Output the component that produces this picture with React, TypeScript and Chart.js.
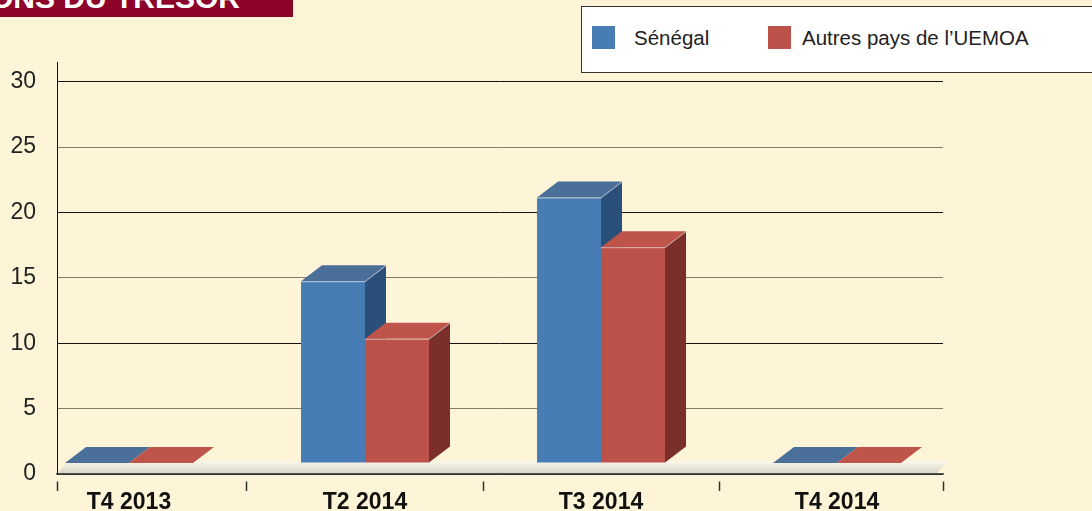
import React, { useEffect, useRef } from "react";
import { Chart, registerables } from "chart.js";

Chart.register(...registerables);

// ---- data ----
const categories = ["T4 2013", "T2 2014", "T3 2014", "T4 2014"];
const seriesNames = ["Sénégal", "Autres pays de l\u2019UEMOA"];
const senegalValues = [0, 13.9, 20.3, 0];
const autresValues = [0, 9.5, 16.5, 0];
const yTickValues = [0, 5, 10, 15, 20, 25, 30];
const titleText = "ONS DU TRESOR";

// ---- styles ----
const frontColors = ["#487cb4", "#bc5249"];
const topColors = ["#4a6f98", "#bf544b"];
const sideColors = ["#2a5079", "#7a2f2a"];
const FONT = "'Liberation Sans', Arial, Helvetica, sans-serif";
const DX = 21;
const DY = 16;
const LIFT = 11;

const bars3d = {
  id: "bars3d",
  beforeDatasetsDraw(chart: any) {
    const { ctx, chartArea, scales } = chart;
    const y0 = scales.y.getPixelForValue(0) - 1;
    ctx.save();
    const g = ctx.createLinearGradient(0, y0 - 12, 0, y0);
    g.addColorStop(0, "rgba(251,248,236,1)");
    g.addColorStop(1, "rgba(216,212,198,1)");
    ctx.fillStyle = g;
    ctx.beginPath();
    ctx.moveTo(chartArea.left + 1, y0);
    ctx.lineTo(chartArea.left + 11, y0 - 12);
    ctx.lineTo(chartArea.right + 5, y0 - 12);
    ctx.lineTo(chartArea.right - 6, y0);
    ctx.closePath();
    ctx.fill();
    ctx.restore();
  },
  afterDatasetsDraw(chart: any) {
    const { ctx } = chart;
    const poly = (pts: number[][], color: string) => {
      ctx.beginPath();
      ctx.moveTo(pts[0][0], pts[0][1]);
      for (let i = 1; i < pts.length; i++) ctx.lineTo(pts[i][0], pts[i][1]);
      ctx.closePath();
      ctx.fillStyle = color;
      ctx.fill();
    };
    ctx.save();
    chart.data.datasets.forEach((_ds: any, di: number) => {
      const meta = chart.getDatasetMeta(di);
      meta.data.forEach((bar: any) => {
        const { x, y, base, width } = bar.getProps(["x", "y", "base", "width"], true);
        const l = x - width / 2;
        const r = x + width / 2;
        const t = y - LIFT;
        const b = base - LIFT;
        ctx.fillStyle = frontColors[di];
        ctx.fillRect(l, t, r - l, b - t);
        poly([[l, t], [l + DX, t - DY], [r + DX, t - DY], [r, t]], topColors[di]);
        poly([[r, t], [r + DX, t - DY], [r + DX, b - DY], [r, b]], sideColors[di]);
        if (b - t > 2) {
          ctx.strokeStyle = "rgba(255,255,255,0.55)";
          ctx.lineWidth = 1;
          ctx.beginPath();
          ctx.moveTo(l, t + 0.5);
          ctx.lineTo(r, t + 0.5);
          ctx.lineTo(r + DX, t - DY + 0.5);
          ctx.stroke();
        }
      });
    });
    ctx.restore();
  },
};

export default function App() {
  const canvasRef = useRef<HTMLCanvasElement | null>(null);

  useEffect(() => {
    const canvas = canvasRef.current;
    if (!canvas) return;
    const chart = new Chart(canvas, {
      type: "bar",
      data: {
        datasets: [
          {
            label: seriesNames[0],
            data: senegalValues.map((v, i) => ({ x: i, y: v })),
            backgroundColor: "rgba(0,0,0,0)",
            borderWidth: 0,
          },
          {
            label: seriesNames[1],
            data: autresValues.map((v, i) => ({ x: i, y: v })),
            backgroundColor: "rgba(0,0,0,0)",
            borderWidth: 0,
          },
        ],
      },
      options: {
        responsive: false,
        animation: false,
        devicePixelRatio: 1,
        barThickness: 64,
        layout: { padding: { top: 62, right: 149, left: 0, bottom: 0 } },
        plugins: { legend: { display: false }, tooltip: { enabled: false } },
        scales: {
          x: {
            type: "linear",
            offset: false,
            min: -0.305,
            max: 3.449,
            afterBuildTicks: (scale: any) => {
              scale.ticks = [scale.min, 0, 0.5, 1, 1.5, 2, 2.5, 3, scale.max].map((v) => ({ value: v }));
            },
            afterFit: (scale: any) => {
              scale.height = 37;
            },
            ticks: {
              autoSkip: false,
              maxRotation: 0,
              minRotation: 0,
              padding: -2,
              color: "#111",
              font: { family: FONT, size: 23, weight: "bold" },
              callback: (v: any) => (Number.isInteger(v) ? categories[v] : ""),
            },
            grid: {
              offset: false,
              drawOnChartArea: false,
              tickLength: 17,
              tickWidth: 1.5,
              tickBorderDash: [0, 7, 10, 100],
              tickColor: (ctx: any) =>
                ctx.tick && Number.isInteger(ctx.tick.value) ? "rgba(0,0,0,0)" : "#333",
            },
            border: { color: "#555", width: 1.5 },
          },
          y: {
            min: 0,
            max: 31.5,
            afterBuildTicks: (scale: any) => {
              scale.ticks = yTickValues.map((v) => ({ value: v }));
            },
            afterFit: (scale: any) => {
              scale.width = 57;
            },
            ticks: {
              padding: 21,
              color: "#222",
              font: { family: FONT, size: 23 },
            },
            grid: {
              drawTicks: false,
              lineWidth: 1,
              color: (ctx: any) =>
                ctx.tick && ctx.tick.value % 10 === 0 ? "#111" : "#857d6c",
            },
            border: { color: "#111", width: 1 },
          },
        },
      } as any,
      plugins: [bars3d],
    });
    return () => chart.destroy();
  }, []);

  const legendSquareLeft = [10, 186];
  const legendTextLeft = [52, 220];

  return (
    <div
      style={{
        position: "absolute",
        left: 0,
        top: 0,
        width: 1092,
        height: 511,
        overflow: "hidden",
        background: "#fef5d8",
      }}
    >
      <div
        style={{
          position: "absolute",
          left: 0,
          top: 0,
          width: 293,
          height: 17,
          background: "#8c0529",
          overflow: "hidden",
        }}
      >
        <span
          style={{
            position: "absolute",
            left: -10,
            top: -17,
            whiteSpace: "nowrap",
            color: "#fff",
            font: `bold 30px/30px ${FONT}`,
          }}
        >
          {titleText}
        </span>
      </div>
      <canvas
        ref={canvasRef}
        width={1092}
        height={511}
        style={{ position: "absolute", left: 0, top: 0, width: 1092, height: 511 }}
      />
      <div
        style={{
          position: "absolute",
          left: 581,
          top: 6,
          width: 530,
          height: 67,
          background: "#fff",
          border: "1px solid #333",
          boxSizing: "border-box",
        }}
      >
        {seriesNames.map((name, i) => (
          <React.Fragment key={name}>
            <div
              style={{
                position: "absolute",
                left: legendSquareLeft[i],
                top: 19,
                width: 23,
                height: 23,
                background: frontColors[i],
              }}
            />
            <div
              style={{
                position: "absolute",
                left: legendTextLeft[i],
                top: 19,
                height: 23,
                lineHeight: "23px",
                whiteSpace: "nowrap",
                color: "#222",
                font: `20.5px/23px ${FONT}`,
              }}
            >
              {name}
            </div>
          </React.Fragment>
        ))}
      </div>
    </div>
  );
}
